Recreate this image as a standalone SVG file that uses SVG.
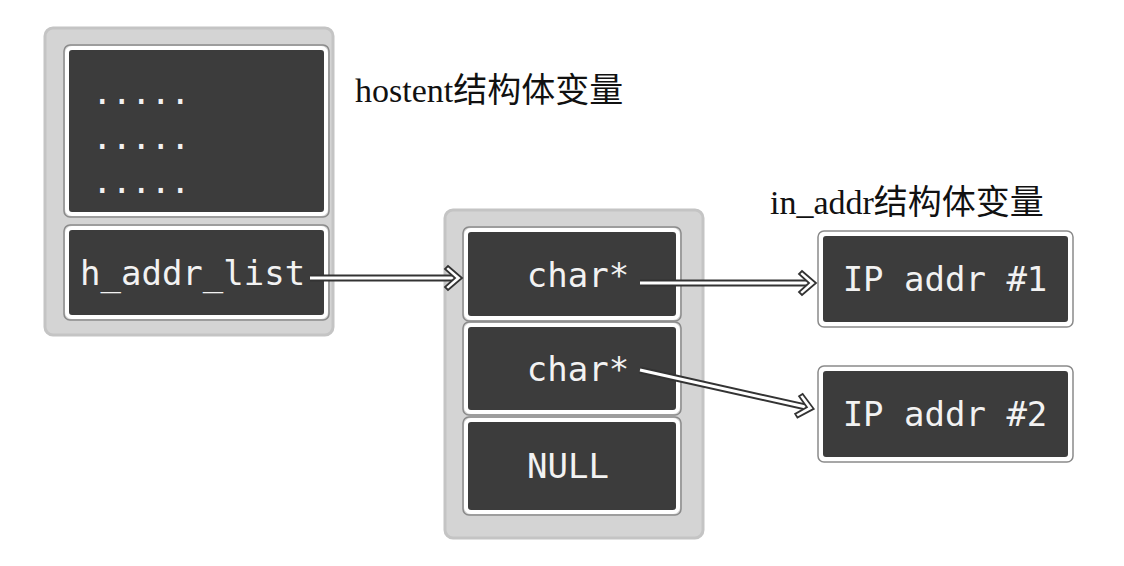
<svg xmlns="http://www.w3.org/2000/svg" width="1124" height="566" viewBox="0 0 1124 566">
<style>
.outer{fill:#d4d4d4;stroke:#c4c4c4;stroke-width:3}
.box{fill:#3c3c3c;stroke:#ffffff;stroke-width:4}
.rim{fill:none;stroke:#8a8a8a;stroke-width:1.5}
.mono{font-family:"DejaVu Sans Mono",monospace;font-size:34px;fill:#f2f2f2}
.lbl{font-family:"Liberation Serif","Noto Sans CJK SC",serif;font-size:34px;fill:#111}
.shaft{stroke:#333;stroke-width:7;fill:none}
.shaftin{stroke:#fff;stroke-width:3;fill:none}
.head{fill:#fff;stroke:#333;stroke-width:1.8;stroke-linejoin:miter}
</style>
<rect width="1124" height="566" fill="#fff"/>
<g id="hostent">
<rect class="outer" x="45" y="28" width="288" height="307" rx="8"/>
<rect class="rim" x="64" y="45" width="265" height="172" rx="6"/>
<rect class="box" x="67" y="48" width="259" height="166" rx="5"/>
<text class="mono" x="92" y="104" letter-spacing="-1">.....</text>
<text class="mono" x="92" y="149" letter-spacing="-1">.....</text>
<text class="mono" x="92" y="193" letter-spacing="-1">.....</text>
</g>
<g id="h_addr_list">
<rect class="rim" x="64" y="225" width="265" height="95" rx="6"/>
<rect class="box" x="67" y="228" width="259" height="89" rx="5"/>
<text class="mono" x="80" y="285">h_addr_list</text>
</g>
<g id="label-hostent"><text class="lbl" x="355" y="102">hostent结构体变量</text></g>
<g id="array">
<rect class="outer" x="445" y="210" width="258" height="328" rx="8"/>
</g>
<g id="char1">
<rect class="rim" x="463" y="227" width="218" height="94" rx="6"/>
<rect class="box" x="466" y="230" width="212" height="88" rx="5"/>
<text class="mono" x="578" y="287" text-anchor="middle">char*</text>
</g>
<g id="char2">
<rect class="rim" x="463" y="322" width="218" height="93" rx="6"/>
<rect class="box" x="466" y="325" width="212" height="87" rx="5"/>
<text class="mono" x="578" y="381" text-anchor="middle">char*</text>
</g>
<g id="null">
<rect class="rim" x="463" y="417" width="218" height="98" rx="6"/>
<rect class="box" x="466" y="420" width="212" height="92" rx="5"/>
<text class="mono" x="568" y="478" text-anchor="middle">NULL</text>
</g>
<g id="label-inaddr"><text class="lbl" x="770" y="214">in_addr结构体变量</text></g>
<g id="ip1">
<rect class="rim" x="818" y="231" width="255" height="96" rx="6"/>
<rect class="box" x="821" y="234" width="249" height="90" rx="5"/>
<text class="mono" x="945" y="291" text-anchor="middle">IP addr #1</text>
</g>
<g id="ip2">
<rect class="rim" x="818" y="366" width="255" height="96" rx="6"/>
<rect class="box" x="821" y="369" width="249" height="90" rx="5"/>
<text class="mono" x="945" y="426" text-anchor="middle">IP addr #2</text>
</g>
<g id="connectors">
<line class="shaft" x1="310" y1="278" x2="452" y2="278"/>
<line class="shaftin" x1="310" y1="278" x2="454" y2="278"/>
<path class="head" d="M448 266 L462 278 L448 290 L445 287 L455 278 L445 269 Z"/>
<line class="shaft" x1="640" y1="283" x2="806" y2="283"/>
<line class="shaftin" x1="640" y1="283" x2="808" y2="283"/>
<path class="head" d="M802 271 L816 283 L802 295 L799 292 L809 283 L799 274 Z"/>
<g transform="rotate(12.6 640 370)">
<line class="shaft" x1="640" y1="370" x2="808" y2="370"/>
<line class="shaftin" x1="640" y1="370" x2="810" y2="370"/>
<path class="head" d="M804 358 L818 370 L804 382 L801 379 L811 370 L801 361 Z"/>
</g>
</g>
</svg>
